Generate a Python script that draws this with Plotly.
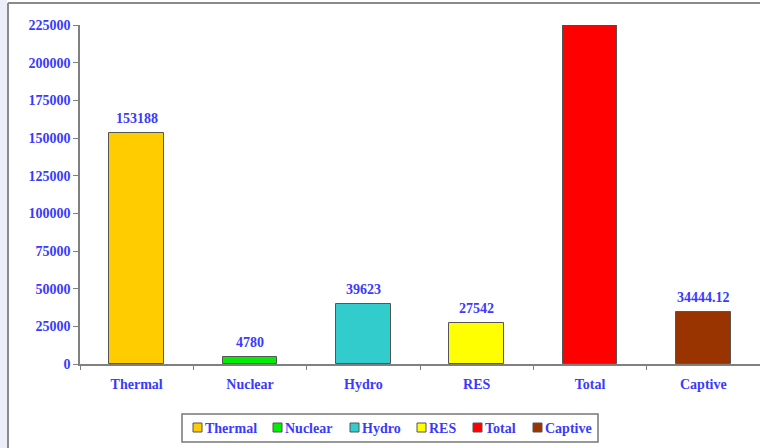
import plotly.graph_objects as go

categories = ["Thermal", "Nuclear", "Hydro", "RES", "Total", "Captive"]
values = [153188, 4780, 39623, 27542, 225133, 34444.12]
labels = ["153188", "4780", "39623", "27542", "", "34444.12"]
colors = ["#FFCC00", "#00EE00", "#33CCCC", "#FFFF00", "#FF0000", "#993300"]
y_ticks = [0, 25000, 50000, 75000, 100000, 125000, 150000, 175000, 200000, 225000]

BLUE = "#3a3aff"
FONT = "Liberation Serif"

W, H = 760, 448
L, R, T, B = 80, 0, 25, 84
pw, ph = W - L - R, H - T - B

def px(x):
    return (x - L) / pw

def py(y):
    return (H - B - y) / ph

fig = go.Figure()
for cat, val, col in zip(categories, values, colors):
    fig.add_trace(go.Bar(
        x=[cat], y=[val], name=cat,
        marker=dict(color=col, line=dict(color="#555555", width=1)),
        width=0.48, showlegend=False,
    ))

annotations = []
for cat, val, lab in zip(categories, values, labels):
    if lab:
        annotations.append(dict(
            x=cat, y=val, xref="x", yref="y", text=lab, showarrow=False,
            yanchor="bottom", yshift=5,
            font=dict(family=FONT, size=14, color=BLUE, weight="bold"),
        ))

# manual legend (symbol left edges, px)
leg_x = [193, 273, 350, 417, 473, 533]
shapes = [
    dict(type="rect", xref="paper", yref="paper",
         x0=px(0), x1=px(7), y0=py(H), y1=py(0),
         fillcolor="#ECEFF8", line=dict(width=0), layer="below"),
    dict(type="line", xref="paper", yref="paper",
         x0=px(8), x1=px(W + 2), y0=py(3), y1=py(3),
         line=dict(color="#8a8a8a", width=2)),
    dict(type="line", xref="paper", yref="paper",
         x0=px(8), x1=px(8), y0=py(3), y1=py(H + 2),
         line=dict(color="#8a8a8a", width=2)),
    dict(type="rect", xref="paper", yref="paper",
         x0=px(182), x1=px(598), y0=py(414), y1=py(442),
         fillcolor="white", line=dict(color="#777777", width=1.5)),
]
for lx, cat, col in zip(leg_x, categories, colors):
    shapes.append(dict(type="rect", xref="paper", yref="paper",
                       x0=px(lx), x1=px(lx + 9), y0=py(423), y1=py(432),
                       fillcolor=col, line=dict(color="#555555", width=1)))
    annotations.append(dict(
        x=px(lx + 10), y=py(428), xref="paper", yref="paper", text=cat,
        showarrow=False, xanchor="left", yanchor="middle",
        font=dict(family=FONT, size=14, color=BLUE, weight="bold"),
    ))

fig.update_layout(
    width=W, height=H,
    margin=dict(l=L, r=R, t=T, b=B),
    paper_bgcolor="white", plot_bgcolor="white",
    barmode="overlay",
    bargap=0,
    font=dict(family=FONT, size=14, color=BLUE, weight="bold"),
    showlegend=False,
    xaxis=dict(
        categoryorder="array", categoryarray=categories,
        showline=True, linecolor="#808080", linewidth=1.5,
        ticks="outside", tickson="boundaries", ticklen=4, tickcolor="#808080",
        tickfont=dict(family=FONT, size=14, color=BLUE, weight="bold"),
        ticklabelstandoff=6,
        showgrid=False, zeroline=False,
    ),
    yaxis=dict(
        range=[0, 225000], tickvals=y_ticks, tickformat="d",
        showline=True, linecolor="#808080", linewidth=1.5,
        ticks="outside", ticklen=5, tickcolor="#808080",
        tickfont=dict(family=FONT, size=14, color=BLUE, weight="bold"),
        showgrid=False, zeroline=False,
    ),
    shapes=shapes,
    annotations=annotations,
)

fig.write_html("out.html")
